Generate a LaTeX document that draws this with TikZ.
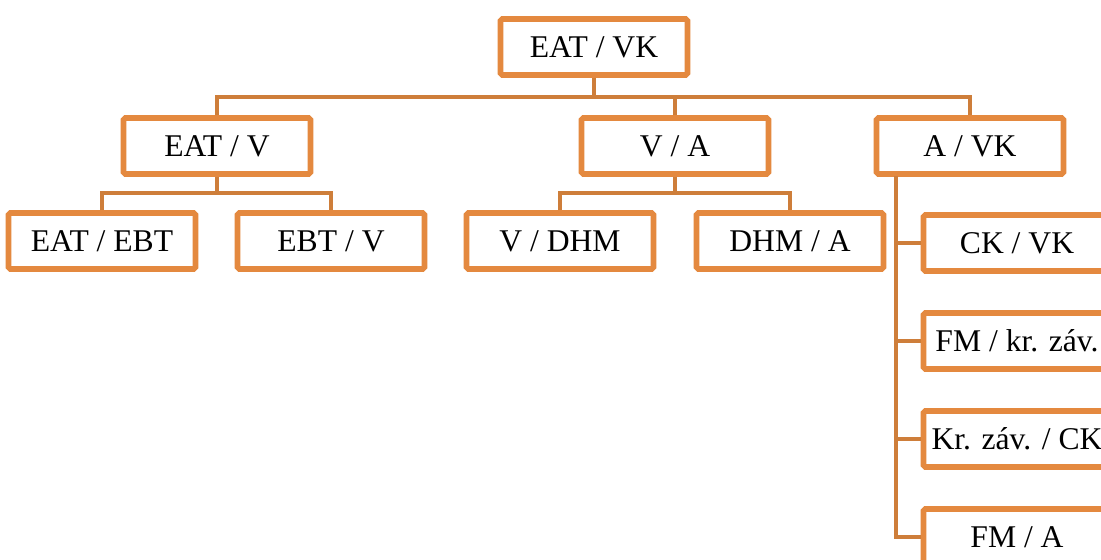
\documentclass[tikz,border=0pt]{standalone}
\usepackage{fontspec}
\setmainfont{Liberation Serif}

\definecolor{boxorange}{RGB}{228,137,63}
\definecolor{lineorange}{RGB}{206,126,58}

\tikzset{
  ratio/.style={draw=boxorange, line width=3.2pt, fill=white, rounded corners=1pt,
    minimum width=3.74cm, minimum height=1.12cm, inner sep=0pt,
    font=\fontsize{18}{21}\selectfont},
  link/.style={draw=lineorange, line width=2.6pt}
}

\begin{document}
\begin{tikzpicture}[x=0.02cm, y=-0.02cm]
    \useasboundingbox (0,0) rectangle (1101,560);
    \clip (0,0) rectangle (1101,560);

    % Top
    \node[ratio] (eatvk) at (594,47) {EAT / VK};

    % First level
    \node[ratio] (eatv) at (217,146) {EAT / V};
    \node[ratio] (va) at (675,146) {V / A};
    \node[ratio] (avk) at (970,146) {A / VK};

    % Second level
    \node[ratio] (eatebt) at (102,241) {EAT / EBT};
    \node[ratio] (ebtv) at (331,241) {EBT / V};
    \node[ratio] (vdhm) at (560,241) {V / DHM};
    \node[ratio] (dhma) at (790,241) {DHM / A};

    % Column under A / VK
    \node[ratio] (ckvk) at (1017,243) {CK / VK};
    \node[ratio] (fmkr) at (1017,341) {FM / kr. záv.};
    \node[ratio] (krck) at (1017,439) {Kr. záv. / CK};
    \node[ratio] (fma) at (1017,537) {FM / A};

    % Connectors
    \coordinate (busa) at (594,97);
    \coordinate (busb) at (217,193);
    \coordinate (busc) at (675,193);
    \coordinate (spine) at (896,176);

    \draw[link] (eatvk.south) -- (busa);
    \draw[link] (eatv.north) |- (busa) -| (avk.north);
    \draw[link] (va.north) -- (va.north |- busa);

    \draw[link] (eatv.south) -- (busb);
    \draw[link] (eatebt.north) |- (busb) -| (ebtv.north);

    \draw[link] (va.south) -- (busc);
    \draw[link] (vdhm.north) |- (busc) -| (dhma.north);

    \draw[link] (spine) -- (spine |- fma.west) -- (fma.west);
    \draw[link] (spine |- ckvk.west) -- (ckvk.west);
    \draw[link] (spine |- fmkr.west) -- (fmkr.west);
    \draw[link] (spine |- krck.west) -- (krck.west);
\end{tikzpicture}
\end{document}
